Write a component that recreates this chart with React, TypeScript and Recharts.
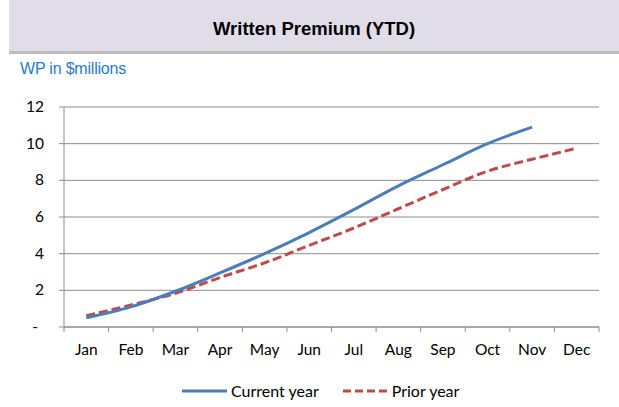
import { LineChart, Line, XAxis, YAxis, CartesianGrid } from 'recharts'

const months = ['Jan', 'Feb', 'Mar', 'Apr', 'May', 'Jun', 'Jul', 'Aug', 'Sep', 'Oct', 'Nov', 'Dec']
const currentYear = [0.5, 1.1, 1.95, 2.95, 4.0, 5.15, 6.4, 7.7, 8.85, 10.0, 10.9, null]
const priorYear = [0.62, 1.2, 1.84, 2.7, 3.5, 4.45, 5.4, 6.45, 7.5, 8.5, 9.15, 9.75]
const yTicks = [0, 2, 4, 6, 8, 10, 12]

const data = months.map((m, i) => ({ month: m, current: currentYear[i], prior: priorYear[i] }))

const BLUE = '#4a7ebb'
const RED = '#be4b48'
const GRID = '#8c8c8c'
const FONT = 'Lato, "Open Sans", sans-serif'
const HALF_BAND = 535 / 24

function MonthTick({ x, y, payload, index }: any) {
  const half = payload?.offset || HALF_BAND
  return (
    <g>
      <line x1={x - half} x2={x - half} y1={y} y2={y + 5} stroke={GRID} />
      {index === months.length - 1 && <line x1={x + half} x2={x + half} y1={y} y2={y + 5} stroke={GRID} />}
      <text x={x} y={y + 28} textAnchor="middle" fontSize={15.5} fill="#000" fontFamily={FONT}>{payload.value}</text>
    </g>
  )
}

function ValueTick({ x, y, payload }: any) {
  const zero = payload.value === 0
  return (
    <text x={zero ? x - 6 : x} y={y} dy={5} textAnchor="end" fontSize={15.5} fill="#000" fontFamily={FONT}>
      {zero ? '-' : payload.value}
    </text>
  )
}

function LegendSwatch({ color, dashed }: { color: string; dashed?: boolean }) {
  return (
    <svg width={45} height={6} style={{ display: 'block' }}>
      <line x1={0} x2={45} y1={3} y2={3} stroke={color} strokeWidth={3} strokeDasharray={dashed ? '8 4' : undefined} />
    </svg>
  )
}

export default function App() {
  return (
    <div style={{ position: 'absolute', left: 0, top: 0, width: 619, height: 407, background: '#fff', overflow: 'hidden' }}>
      <div style={{
        position: 'absolute', left: 9, top: 0, width: 610, height: 51, background: '#e0dde9',
        borderBottom: '3px solid #bdbdbd', display: 'flex', alignItems: 'center', justifyContent: 'center',
      }}>
        <span style={{ fontFamily: 'Arial, "Liberation Sans", sans-serif', fontWeight: 'bold', fontSize: 18.5, color: '#000', marginTop: 6 }}>
          Written Premium (YTD)
        </span>
      </div>
      <div style={{ position: 'absolute', left: 20, top: 60, fontFamily: 'Arial, "Liberation Sans", sans-serif', fontSize: 16, color: '#1f7cd0', letterSpacing: -0.2 }}>
        WP in $millions
      </div>
      <div style={{ position: 'absolute', left: 0, top: 0 }}>
        <LineChart width={619} height={407} data={data} margin={{ top: 107, right: 20, left: 24, bottom: 0 }}>
          <CartesianGrid vertical={false} stroke={GRID} />
          <XAxis dataKey="month" height={80} tickLine={false} tickSize={0} tickMargin={0} stroke={GRID} interval={0}
            padding={{ left: HALF_BAND, right: HALF_BAND }} tick={<MonthTick />} />
          <YAxis width={40} domain={[0, 12]} ticks={yTicks} stroke={GRID} tickSize={5} tickMargin={15} tick={<ValueTick />} />
          <Line type="monotone" dataKey="prior" stroke={RED} strokeWidth={3} strokeDasharray="9 4" dot={false} isAnimationActive={false} />
          <Line type="monotone" dataKey="current" stroke={BLUE} strokeWidth={3} dot={false} isAnimationActive={false} />
        </LineChart>
      </div>
      <div style={{ position: 'absolute', left: 182, top: 381, display: 'flex', alignItems: 'center', fontFamily: FONT, fontSize: 16, color: '#000' }}>
        <LegendSwatch color={BLUE} />
        <span style={{ marginLeft: 4 }}>Current year</span>
        <span style={{ width: 24 }} />
        <LegendSwatch color={RED} dashed />
        <span style={{ marginLeft: 4 }}>Prior year</span>
      </div>
    </div>
  )
}
